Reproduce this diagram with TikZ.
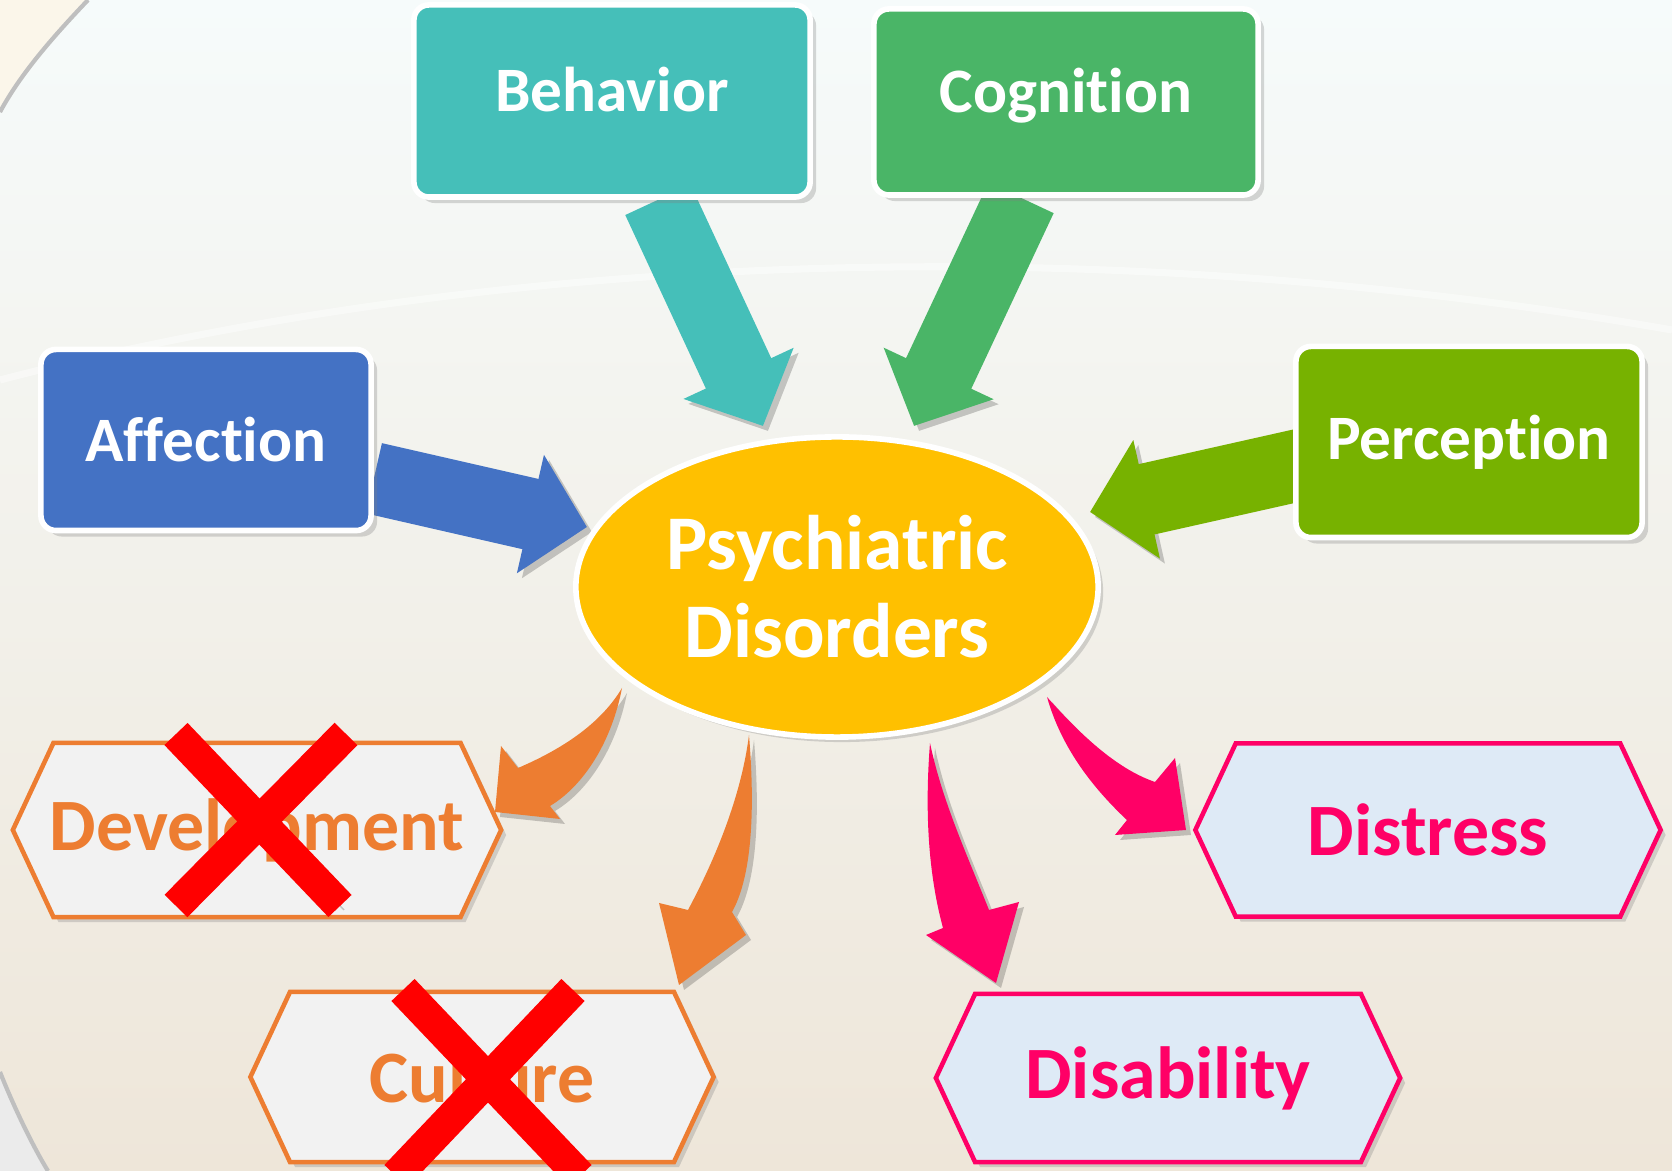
\documentclass[tikz,border=0pt]{standalone}
\usepackage{fontspec}
\setmainfont{Carlito}[Ligatures={NoCommon}]
\usetikzlibrary{calc}
\usetikzlibrary{shapes.geometric,shapes.symbols,arrows.meta,shadows}
\definecolor{behcol}{HTML}{45BFB9}
\definecolor{cogcol}{HTML}{4AB567}
\definecolor{affcol}{HTML}{4472C4}
\definecolor{percol}{HTML}{77B200}
\definecolor{psycol}{HTML}{FFC000}
\definecolor{orgcol}{HTML}{ED7D31}
\definecolor{pinkcol}{HTML}{FF0066}
\definecolor{greyfill}{HTML}{F2F2F2}
\definecolor{bluefill}{HTML}{DEEAF6}
\definecolor{bgtop}{HTML}{F6FBFB}
\definecolor{bgbot}{HTML}{EEE6D9}
\definecolor{bgcream}{HTML}{FBF6EA}
\pgfdeclarelayer{canvas}
\pgfdeclarelayer{arrows}
\pgfsetlayers{canvas,arrows,main}
\newcommand{\hexlabel}[1]{\makebox[0pt]{#1}}
\tikzstyle{box}=[rectangle,rounded corners=0.15cm,draw=white,line width=1.6pt,text=white,font=\bfseries\fontsize{18}{20}\selectfont,drop shadow={opacity=0.3,shadow xshift=0.06cm,shadow yshift=-0.06cm}]
\tikzstyle{topbox}=[box,text height=0.75em,text depth=0.18em]
\tikzstyle{hexbox}=[shape=signal,signal to=west and east,signal pointer angle=130,line width=1.3pt,font=\bfseries\fontsize{21}{24}\selectfont,drop shadow={opacity=0.3,shadow xshift=0.05cm,shadow yshift=-0.05cm}]
\tikzstyle{fatarrow}=[line width=0.72cm,-{Triangle[width=1.18cm,length=0.58cm]},preaction={draw=black,opacity=0.2,transform canvas={shift={(0.05cm,-0.05cm)}}}]
\tikzstyle{bentarrow}=[preaction={fill=black,opacity=0.2,transform canvas={shift={(0.05cm,-0.05cm)}}}]
\tikzstyle{redcross}=[draw=red,line width=0.32cm,preaction={draw=black,opacity=0.2,transform canvas={shift={(0.04cm,-0.04cm)}}}]

\begin{document}
\begin{tikzpicture}[x=0.01cm,y=-0.01cm]
\useasboundingbox (0,0) rectangle (1672,1171);
\begin{pgfonlayer}{canvas}
\fill[top color=bgtop,bottom color=bgbot] (0,0) rectangle (1672,1171);
\fill[bgcream] (0,0) -- (88,0) .. controls (50,40) and (20,75) .. (0,112) -- cycle;
\draw[black!25,line width=1.2pt] (88,0) .. controls (50,40) and (20,75) .. (0,112);
\fill[black!8] (0,1072) .. controls (15,1110) and (35,1150) .. (48,1171) -- (0,1171) -- cycle;
\draw[black!25,line width=1.2pt] (0,1072) .. controls (15,1110) and (35,1150) .. (48,1171);
\draw[white,line width=2pt,opacity=0.45] (0,380) .. controls (500,250) and (1100,230) .. (1672,330);
\end{pgfonlayer}

% four sources
\node[topbox,fill=behcol,minimum width=3.96cm,minimum height=1.92cm] (behavior) at (612,101) {Behavior};
\node[topbox,fill=cogcol,minimum width=3.84cm,minimum height=1.86cm] (cognition) at (1066,102) {Cognition};
\node[box,fill=affcol,minimum width=3.30cm,minimum height=1.81cm] (affection) at (206,440) {Affection};
\node[box,fill=percol,minimum width=3.46cm,minimum height=1.91cm] (perception) at (1469,442) {Perception};

\node[ellipse,fill=psycol,draw=white,line width=1.6pt,minimum width=5.22cm,minimum height=3.0cm,inner sep=0pt,align=center,text=white,font=\bfseries\fontsize{22}{25}\selectfont,drop shadow={opacity=0.3,shadow xshift=0.05cm,shadow yshift=-0.05cm}] (psych) at (837,587) {Psychiatric\\Disorders};

% four outcomes
\node[hexbox,draw=orgcol,fill=greyfill,text=orgcol,minimum width=4.88cm,minimum height=1.74cm] (develop) at (257,830) {\hexlabel{Development}};
\node[hexbox,draw=orgcol,fill=greyfill,text=orgcol,minimum width=4.63cm,minimum height=1.70cm] (culture) at (482,1077) {\hexlabel{Culture}};
\node[hexbox,draw=pinkcol,fill=bluefill,text=pinkcol,minimum width=4.65cm,minimum height=1.73cm] (distress) at (1428,830) {\hexlabel{Distress}};
\node[hexbox,draw=pinkcol,fill=bluefill,text=pinkcol,minimum width=4.64cm,minimum height=1.68cm] (disability) at (1168,1078) {\hexlabel{Disability}};

\coordinate (behtip) at (763,426);
\coordinate (cogtip) at (914,426);
\coordinate (afftip) at (587,527);
\coordinate (pertip) at (1090,512);
\coordinate (devtail) at (622,688);
\coordinate (devtip) at (495,812);
\coordinate (cultail) at (749,735);
\coordinate (cultip) at (679,985);
\coordinate (disbtail) at (930,743);
\coordinate (disbtip) at (996,983);
\coordinate (dstail) at (1047,697);
\coordinate (dstip) at (1186,830);

\begin{pgfonlayer}{arrows}
\draw[fatarrow,behcol] (behavior) -- (behtip);
\draw[fatarrow,cogcol] (cognition) -- (cogtip);
\draw[fatarrow,affcol] (affection) -- (afftip);
\draw[fatarrow,percol] ([yshift=0.15cm]perception.center) -- (pertip);
%curved ones, thin at the ellipse
\fill[bentarrow,orgcol] (devtail) .. controls (612,740) and (585,785) .. (550,806) -- (560,819) -- (devtip) -- (501,746) -- (518,768) .. controls (560,750) and (600,725) .. (devtail) -- cycle;
\fill[bentarrow,orgcol] (cultail) .. controls (756,820) and (750,880) .. (732,912) -- (746,935) -- (cultip) -- (659,903) -- (688,910) .. controls (720,850) and (742,790) .. (cultail) -- cycle;
\fill[bentarrow,pinkcol] (disbtail) .. controls (924,820) and (930,880) .. (943,928) -- (926,935) -- (disbtip) -- (1019,902) -- (989,910) .. controls (965,850) and (942,800) .. (disbtail) -- cycle;
\fill[bentarrow,pinkcol] (dstail) .. controls (1085,740) and (1120,770) .. (1155,782) -- (1175,758) -- (dstip) -- (1115,835) -- (1127,820) .. controls (1095,790) and (1062,750) .. (dstail) -- cycle;
\end{pgfonlayer}

% crossed out
\draw[redcross] (176,734) -- (340,906);
\draw[redcross] (346,734) -- (176,906);
\draw[redcross] (403,990) -- (580,1176);
\draw[redcross] (573,990) -- (396,1176);

\end{tikzpicture}
\end{document}
